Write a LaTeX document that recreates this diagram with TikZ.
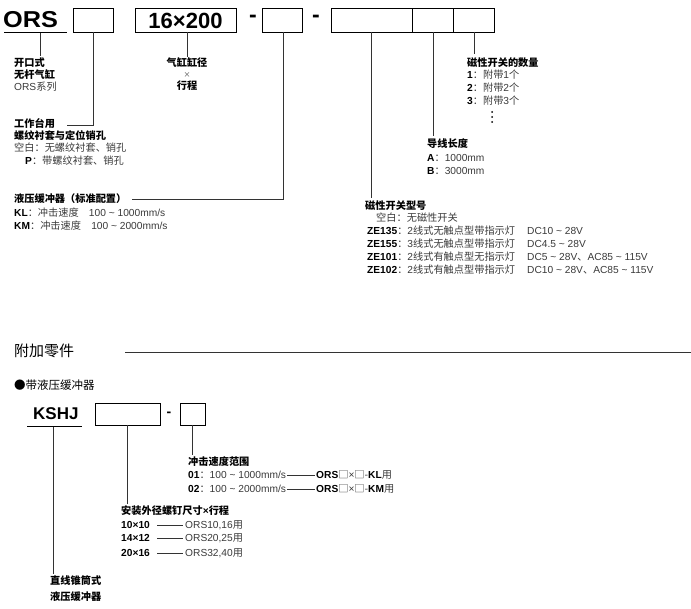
\documentclass[tikz,border=0pt]{standalone}
\usepackage{fontspec}
\setmainfont{Noto Sans CJK SC}
\newfontfamily\hv{Liberation Sans}
\newcommand{\tld}{\textasciitilde}
\newcommand{\B}[1]{{\hv\bfseries\color{black}#1}}
\newcommand{\La}[1]{{\hv #1}}
\definecolor{ln}{HTML}{333333}
\definecolor{tx}{HTML}{3A3A3A}
\begin{document}
\begin{tikzpicture}[x=1pt,y=-1pt,
  lbl/.style={anchor=west,inner sep=0pt,font=\fontsize{10.2}{12}\selectfont,text=tx},
  hd/.style={anchor=west,inner sep=0pt,font=\fontsize{10.2}{12}\selectfont\bfseries,text=black},
  bx/.style={draw=black,line width=0.9pt,inner sep=0pt,anchor=north west},
  big/.style={inner sep=0pt,font=\hv\fontsize{23}{24}\selectfont\bfseries},
  con/.style={draw=ln,line width=0.6pt}]
\useasboundingbox (0,0) rectangle (691,609);
% top code
\node[big,anchor=west,xscale=1.1] (ors) at (3,20) {ORS};
\draw[black,line width=1pt] (4,33) -- (67,33);
\node[bx,minimum width=40pt,minimum height=24pt] (b1) at (73,8) {};
\node[bx,minimum width=101pt,minimum height=24pt] (b2) at (135,8) {};
\node[big,font=\hv\fontsize{22}{24}\selectfont\bfseries] at (185.5,21) {16×200};
\node[big] (d1) at (253,19) {-};
\node[bx,minimum width=40pt,minimum height=24pt] (b3) at (262,8) {};
\node[big] (d2) at (316,19) {-};
\node[bx,minimum width=81pt,minimum height=24pt] (b4) at (331,8) {};
\node[bx,minimum width=41pt,minimum height=24pt] (b5) at (412,8) {};
\node[bx,minimum width=41pt,minimum height=24pt] (b6) at (453,8) {};
% ORS label
\draw[con] (40,33) -- (40,56);
\node[hd] (t0) at (14,63) {开口式};
\node[hd] at (14,75) {无杆气缸};
\node[lbl] at (14,87) {\La{ORS}系列};
% b1
\draw[con] (93,32) -- (93,125) -- (67,125);
\node[hd] (t1) at (14,124) {工作台用};
\node[hd] at (14,136) {螺纹衬套与定位销孔};
\node[lbl] at (14,148) {空白：无螺纹衬套、销孔};
\node[lbl] at (25,161) {\B{P}：带螺纹衬套、销孔};
% b2
\draw[con] (187,32) -- (187,57);
\node[hd,anchor=center] (t2) at (187,63) {气缸缸径};
\node[lbl,anchor=center,font=\fontsize{7}{7}\selectfont] at (187,75) {×};
\node[hd,anchor=center] at (187,86) {行程};
% b3
\draw[con] (283,32) -- (283,199) -- (132,199);
\node[hd] (t3) at (14,199) {液压缓冲器（标准配置）};
\node[lbl] at (14,213) {\B{KL}：冲击速度\quad \La{100 \tld{} 1000mm/s}};
\node[lbl] at (14,226) {\B{KM}：冲击速度\quad \La{100 \tld{} 2000mm/s}};
% b6
\draw[con] (474,32) -- (474,54);
\node[hd] (t6) at (467,63) {磁性开关的数量};
\node[lbl] at (467,75) {\B{1}：附带\La{1}个};
\node[lbl] at (467,88) {\B{2}：附带\La{2}个};
\node[lbl] at (467,101) {\B{3}：附带\La{3}个};
\foreach \yy in {112,117,122} \fill (492,\yy) circle (1pt);
% b5
\draw[con] (433,32) -- (433,136);
\node[hd] (t5) at (427,144) {导线长度};
\node[lbl] at (427,158) {\B{A}：\La{1000mm}};
\node[lbl] at (427,171) {\B{B}：\La{3000mm}};
% b4
\draw[con] (371,32) -- (371,198);
\node[hd] (t4) at (365,206) {磁性开关型号};
\node[lbl] at (376,218) {空白：无磁性开关};
\node[lbl] at (367,231) {\B{ZE135}：\La{2}线式无触点型带指示灯};
\node[lbl] at (367,244) {\B{ZE155}：\La{3}线式无触点型带指示灯};
\node[lbl] at (367,257) {\B{ZE101}：\La{2}线式有触点型无指示灯};
\node[lbl] at (367,270) {\B{ZE102}：\La{2}线式有触点型带指示灯};
\node[lbl] at (527,231) {\La{DC10 \tld{} 28V}};
\node[lbl] at (527,244) {\La{DC4.5 \tld{} 28V}};
\node[lbl] at (527,257) {\La{DC5 \tld{} 28V}、\La{AC85 \tld{} 115V}};
\node[lbl] at (527,270) {\La{DC10 \tld{} 28V}、\La{AC85 \tld{} 115V}};
% section
\node[anchor=west,inner sep=0pt,font=\fontsize{15}{16}\selectfont] (sec) at (14,351) {附加零件};
\draw[con] (125,352) -- (691,352);
\node[anchor=west,inner sep=0pt,font=\fontsize{11.5}{12}\selectfont] (sub) at (14,385) {●带液压缓冲器};
% KSHJ
\node[big,anchor=west,font=\hv\fontsize{17}{18}\selectfont\bfseries] (k) at (33,414) {KSHJ};
\draw[black,line width=1pt] (27,427) -- (82,427);
\node[bx,minimum width=65pt,minimum height=22pt] (k1) at (95,403) {};
\node[big,font=\hv\fontsize{14}{15}\selectfont\bfseries] (d3) at (169,414) {-};
\node[bx,minimum width=25pt,minimum height=22pt] (k2) at (180,403) {};
\draw[con] (53,427) -- (53,574);
\node[hd] (tk) at (50,581) {直线锥筒式};
\node[hd] at (50,597) {液压缓冲器};
\draw[con] (127,425) -- (127,504);
\node[hd] (tk1) at (121,511) {安装外径螺钉尺寸\La{×}行程};
\foreach \yy/\a/\b in {525/10×10/ORS10{,}16,538/14×12/ORS20{,}25,553/20×16/ORS32{,}40}{
  \node[lbl] at (121,\yy) {\B{\a}};
  \draw[con,line width=0.4pt] (157,\yy) -- (183,\yy);
  \node[lbl] at (185,\yy) {\La{\b}用};}
\draw[con] (192,425) -- (192,455);
\node[hd] (tk2) at (188,462) {冲击速度范围};
\node[lbl] at (188,475) {\B{01}：\La{100 \tld{} 1000mm/s}};
\node[lbl] at (188,489) {\B{02}：\La{100 \tld{} 2000mm/s}};
\draw[con,line width=0.4pt] (287,475) -- (315,475);
\draw[con,line width=0.4pt] (287,489) -- (315,489);
\node[lbl] at (316,475) {\B{ORS}□\La{×}□-\B{KL}用};
\node[lbl] at (316,489) {\B{ORS}□\La{×}□-\B{KM}用};
\end{tikzpicture}
\end{document}
